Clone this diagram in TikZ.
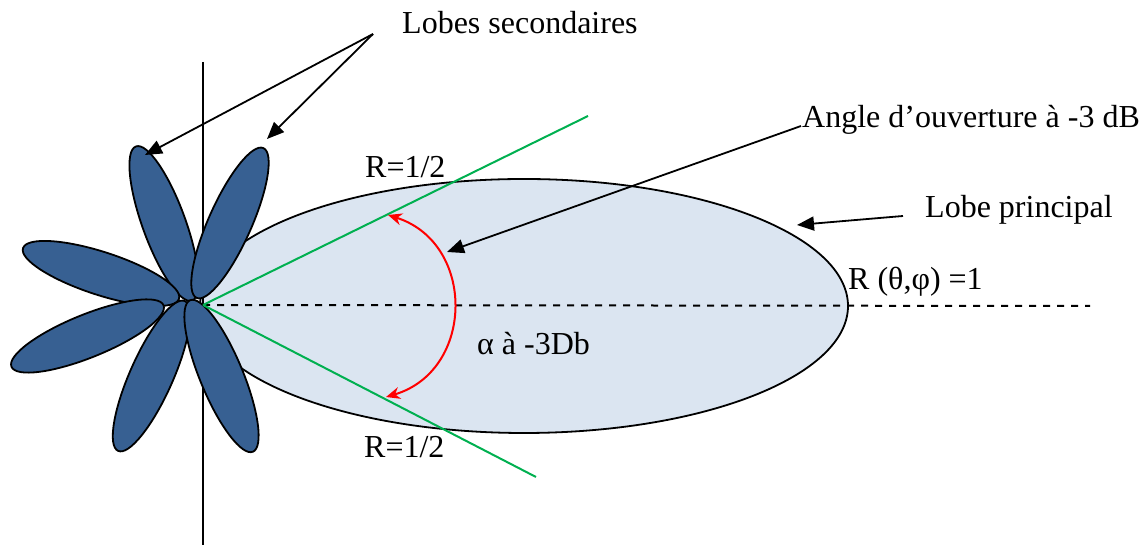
\documentclass[tikz,border=0pt]{standalone}
\usepackage{fontspec}
\setmainfont{Liberation Serif}
\usepackage{tikz}
\usetikzlibrary{arrows.meta, positioning, shapes.geometric, calc}

\definecolor{lobedark}{RGB}{55,96,146}
\definecolor{lobelight}{RGB}{219,229,241}
\definecolor{beamgreen}{RGB}{0,176,80}

\begin{document}
\begin{tikzpicture}[
    x=1pt, y=1pt,
    every node/.style={font=\fontsize{32}{37}\selectfont},
    txt/.style={anchor=base west, inner sep=0pt},
    mainlobe/.style={ellipse, draw, line width=1.8pt, fill=lobelight, minimum width=648pt, minimum height=254pt, inner sep=0pt},
    sidelobe/.style={ellipse, draw, line width=1.8pt, fill=lobedark, minimum width=164pt, minimum height=43pt, inner sep=0pt},
    pointer/.style={-{Triangle[length=17pt,width=14pt]}, line width=1.8pt},
    halfpower/.style={beamgreen, line width=2pt},
    opening/.style={{Stealth[length=14pt,width=12pt]}-{Stealth[length=14pt,width=12pt]}, red, line width=2pt}
]
\useasboundingbox (0,0) rectangle (1141,545);

\coordinate (src) at (203,240);
\coordinate (axisend) at (1090,239);
\coordinate (vtop) at (203,483);
\coordinate (vbot) at (203,0);

\node[mainlobe] (main) at (524,239) {};
\draw[line width=1.8pt] (vtop) -- (vbot);

% lobes secondaires
\node[sidelobe, rotate=110]   (lobe1) at (164,321.5) {};
\node[sidelobe, rotate=66]    (lobe2) at (230,322) {};
\node[sidelobe, rotate=162]   (lobe3) at (101,271.5) {};
\node[sidelobe, rotate=22]    (lobe4) at (87.5,209) {};
\node[sidelobe, rotate=66]    (lobe5) at (151.5,169) {};
\node[sidelobe, rotate=112.5] (lobe6) at (221.5,169) {};

\draw[dashed, dash pattern=on 7pt off 7pt, line width=2pt] (src) -- (axisend);

\coordinate (gup) at (588,429);
\coordinate (gdown) at (536,68);
\draw[halfpower] (src) -- (gup);
\draw[halfpower] (src) -- (gdown);

\coordinate (aup) at (388,330);
\coordinate (adown) at (386,148);
\draw[opening] (aup) to[bend left=73, looseness=1.3] (adown);

\node[txt] (lbsec) at (402,511) {Lobes secondaires};
\node[txt] (angtxt) at (802,417) {Angle d’ouverture à -3 dB};
\node[txt] (lobtxt) at (925,327) {Lobe principal};
\node[txt] (rtxt) at (848,255) {R (θ,φ) =1};
\node[txt] (rup) at (365,367) {R=1/2};
\node[txt] (rdown) at (364,87) {R=1/2};
\node[txt] (alphatxt) at (477,190) {α à -3Db};

\coordinate (fork) at ($(lbsec.base west)+(-29,0)$);
\coordinate (tipone) at (145,390);
\coordinate (tiptwo) at (267,406);
\coordinate (angtip) at (447,293);
\coordinate (lobtip) at (797,320);

\draw[pointer] (fork) -- (tipone);
\draw[pointer] (fork) -- (tiptwo);
\draw[pointer] ($(angtxt.base west)+(-1,2)$) -- (angtip);
\draw[pointer] ($(lobtxt.base west)+(-22,2)$) -- (lobtip);

\end{tikzpicture}
\end{document}
